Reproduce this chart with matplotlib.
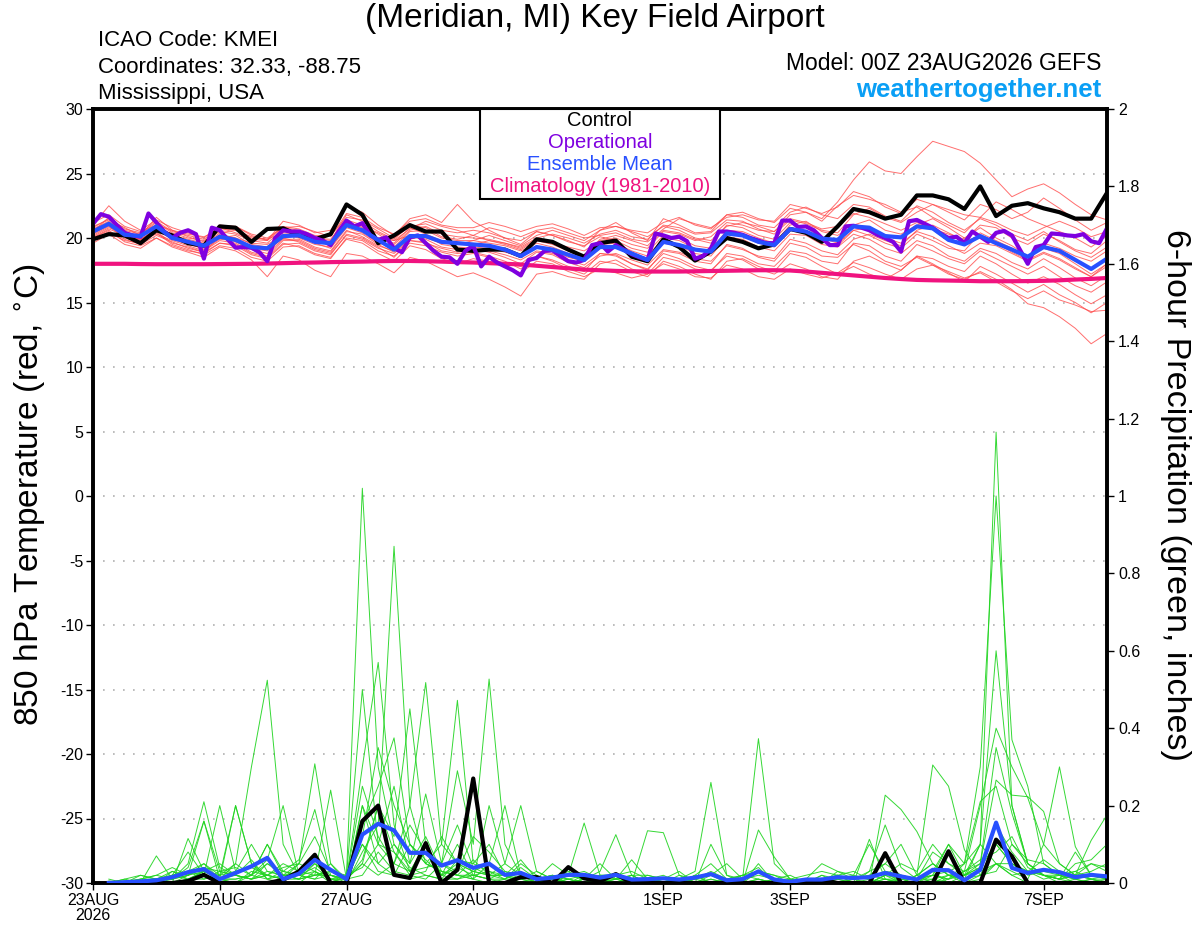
import numpy as np
import matplotlib
matplotlib.use("Agg")
import matplotlib.pyplot as plt
from matplotlib.patches import Rectangle

plt.rcParams['font.family'] = ['Liberation Sans', 'DejaVu Sans']

# ---------------- data ----------------
hours6 = np.arange(0, 385, 6)          # 65 six-hourly steps
hours3 = np.arange(0, 385, 3)          # 129 three-hourly steps (operational)
tick_days = [0, 2, 4, 6, 9, 11, 13, 15]
tick_labels = ["23AUG\n2026", "25AUG", "27AUG", "29AUG", "1SEP", "3SEP", "5SEP", "7SEP"]

control_temp = [19.9, 20.3, 20.2, 19.6, 20.6, 20.2, 19.6, 19.4,
                20.9, 20.8, 19.7, 20.7, 20.75, 20.2, 19.9, 20.3,
                22.6, 21.8, 19.6, 20.2, 21.0, 20.5, 20.5, 19.1,
                19.0, 19.1, 19.1, 18.6, 19.9, 19.7, 19.1, 18.55,
                19.6, 19.8, 18.55, 18.2, 19.9, 19.3, 18.25, 18.95,
                20.0, 19.7, 19.2, 19.5, 20.7, 20.4, 19.7, 20.9,
                22.25, 22.0, 21.5, 21.8, 23.3, 23.3, 23.0, 22.25,
                24.0, 21.7, 22.5, 22.7, 22.3, 22.0, 21.5, 21.5,
                23.5]

mean_temp = [20.5, 21.1, 20.25, 20.15, 20.9, 20.0, 19.7, 19.4,
             20.1, 19.85, 19.3, 19.2, 20.15, 20.2, 19.7, 19.6,
             21.0, 20.6, 19.85, 19.1, 20.15, 20.15, 19.7, 19.6,
             19.5, 19.4, 19.1, 18.6, 19.3, 19.1, 18.7, 18.3,
             19.3, 19.3, 18.8, 18.3, 19.7, 19.45, 19.1, 18.95,
             20.35, 20.2, 19.7, 19.45, 20.7, 20.5, 19.95, 19.85,
             20.9, 20.8, 20.15, 20.05, 20.9, 20.75, 19.85, 19.5,
             20.15, 19.6, 19.1, 18.55, 19.3, 19.0, 18.3, 17.6,
             18.4]

clim_temp = [18.0, 18.0, 18.0, 17.98, 17.97, 17.97, 17.97, 17.97,
             17.98, 17.99, 18.0, 18.02, 18.05, 18.08, 18.1, 18.13,
             18.15, 18.17, 18.2, 18.22, 18.22, 18.2, 18.17, 18.13,
             18.1, 18.05, 18.0, 17.95, 17.85, 17.75, 17.65, 17.55,
             17.5, 17.45, 17.42, 17.4, 17.4, 17.4, 17.42, 17.44,
             17.46, 17.48, 17.5, 17.5, 17.48, 17.4, 17.3, 17.2,
             17.1, 17.0, 16.9, 16.82, 16.75, 16.72, 16.7, 16.68,
             16.65, 16.65, 16.65, 16.66, 16.68, 16.72, 16.78, 16.83,
             16.9]

oper_temp = [21.1, 21.85, 21.65, 21.0, 20.4, 20.2, 20.1, 21.9,
             21.2, 20.5, 20.0, 20.4, 20.6, 20.3, 18.4, 20.8,
             20.6, 19.9, 19.25, 19.3, 19.25, 18.9, 18.2, 20.0,
             20.6, 20.5, 20.5, 20.3, 20.0, 19.8, 19.45, 20.5,
             21.35, 20.9, 21.15, 20.2, 19.85, 20.05, 19.2, 18.9,
             20.05, 20.2, 19.6, 19.0, 18.55, 18.5, 18.0, 19.0,
             19.4, 17.8, 18.55, 18.1, 17.8, 17.5, 17.1, 18.3,
             18.45, 19.0, 19.05, 18.6, 18.2, 18.1, 18.3, 19.45,
             19.6, 18.95, 19.45, 19.1, 18.75, 18.5, 18.3, 20.35,
             20.2, 20.0, 20.1, 19.75, 18.4, 18.6, 19.2, 20.5,
             20.5, 20.4, 20.25, 20.0, 19.8, 19.6, 19.6, 21.35,
             21.35, 20.85, 20.9, 20.6, 20.0, 19.45, 19.45, 20.9,
             20.95, 20.8, 20.6, 20.25, 20.0, 19.7, 18.95, 21.3,
             21.4, 21.1, 20.8, 20.35, 20.0, 20.1, 19.6, 20.5,
             20.1, 19.7, 20.4, 20.55, 20.2, 19.1, 18.0, 19.3,
             19.45, 20.35, 20.3, 20.2, 20.15, 20.3, 19.75, 19.6,
             20.75]

member_temp_01 = [20.8, 21.5, 20.6, 20.3, 21.2, 20.4, 20.0, 19.8, 20.5, 20.3, 19.8, 19.6, 20.7, 20.5, 20.0, 19.9,
                  21.4, 21.0, 20.3, 19.5, 20.6, 20.9, 20.3, 20.1, 20.0, 19.9, 19.6, 19.2, 19.9, 19.6, 19.3, 19.0,
                  19.8, 20.0, 19.5, 19.2, 20.5, 20.3, 19.8, 20.1, 21.2, 21.0, 20.6, 20.5, 21.8, 22.0, 21.5, 22.8,
                  24.5, 25.9, 25.2, 25.0, 26.3, 27.5, 27.1, 26.7, 25.8, 24.5, 23.2, 23.8, 24.2, 23.5, 22.6, 21.8, 21.4]
member_temp_02 = [20.2, 20.9, 20.0, 19.7, 20.5, 19.6, 19.3, 18.9, 19.6, 19.4, 18.7, 18.4, 19.5, 19.6, 19.0, 18.7,
                  20.3, 20.0, 19.3, 18.5, 19.8, 19.7, 19.0, 18.8, 18.9, 18.6, 18.2, 17.6, 18.6, 18.3, 17.8, 17.4,
                  18.8, 18.7, 18.0, 17.5, 19.0, 18.8, 18.2, 18.0, 19.5, 19.2, 18.5, 18.2, 19.6, 19.3, 18.6, 18.5,
                  19.5, 19.0, 18.2, 17.8, 18.5, 17.9, 17.2, 16.8, 17.4, 16.8, 16.0, 14.9, 14.6, 13.9, 13.0, 11.8, 12.6]
member_temp_03 = [21.0, 22.5, 21.3, 20.6, 21.4, 20.8, 20.4, 20.0, 21.0, 20.9, 20.2, 19.8, 21.3, 21.0, 20.4, 20.6,
                  22.5, 22.0, 21.0, 20.2, 21.5, 21.8, 21.2, 22.6, 21.3, 20.6, 20.0, 19.5, 20.5, 20.2, 19.8, 19.3,
                  20.6, 21.2, 20.4, 19.8, 21.5, 21.0, 20.4, 20.5, 21.8, 21.6, 21.0, 20.8, 22.0, 22.4, 21.8, 21.5,
                  22.6, 22.4, 21.7, 21.3, 22.5, 22.0, 21.2, 20.6, 21.5, 21.0, 20.3, 19.8, 20.5, 19.7, 19.0, 18.5, 19.3]
member_temp_04 = [20.0, 20.6, 19.7, 19.4, 20.0, 19.3, 18.9, 18.5, 19.3, 19.0, 18.3, 17.0, 18.6, 18.3, 17.5, 17.0,
                  18.8, 18.6, 18.0, 17.3, 18.5, 18.2, 17.6, 17.0, 17.3, 16.8, 16.2, 15.5, 17.2, 17.4, 17.0, 16.8,
                  18.0, 18.3, 17.6, 17.2, 18.5, 18.2, 17.6, 17.4, 18.8, 18.6, 18.0, 17.8, 19.0, 18.8, 18.2, 18.0,
                  19.6, 19.4, 18.6, 18.2, 19.5, 19.0, 18.4, 18.0, 19.0, 18.4, 17.8, 17.2, 17.8, 17.0, 16.3, 15.8, 16.6]
member_temp_05 = [20.6, 21.2, 20.4, 20.0, 21.0, 20.2, 19.9, 19.6, 20.2, 20.0, 19.6, 19.5, 20.2, 20.4, 19.8, 19.5,
                  21.2, 20.8, 20.0, 19.8, 20.2, 20.0, 19.6, 19.5, 19.8, 19.6, 19.4, 19.0, 19.6, 19.3, 18.8, 18.5,
                  19.5, 19.6, 19.0, 18.6, 20.0, 19.8, 19.2, 19.0, 20.6, 20.5, 20.0, 19.6, 21.0, 21.3, 20.5, 20.2,
                  21.0, 21.4, 20.6, 20.3, 21.0, 21.5, 20.8, 20.0, 20.8, 20.0, 19.4, 18.6, 19.2, 18.8, 18.0, 17.2, 18.0]
member_temp_06 = [20.4, 21.0, 20.3, 19.8, 20.8, 20.0, 19.6, 19.3, 20.3, 20.0, 19.3, 19.1, 20.0, 20.2, 19.6, 19.2,
                  20.8, 20.4, 19.6, 19.3, 20.5, 20.6, 20.0, 19.8, 19.8, 20.2, 19.8, 19.4, 20.2, 20.6, 20.2, 19.8,
                  20.6, 20.9, 20.6, 20.4, 21.2, 21.6, 21.0, 20.7, 21.8, 22.0, 21.5, 21.2, 22.3, 22.0, 21.3, 22.5,
                  23.3, 23.0, 22.6, 22.0, 22.4, 21.6, 21.0, 20.4, 21.6, 22.8, 22.2, 21.5, 21.0, 20.5, 20.0, 19.3, 20.2]
member_temp_07 = [20.0, 20.7, 20.2, 19.9, 20.3, 19.8, 19.4, 19.0, 19.8, 19.6, 18.9, 18.6, 19.8, 19.8, 19.2, 18.9,
                  20.5, 20.3, 19.5, 18.9, 19.9, 20.2, 19.5, 19.3, 19.2, 19.0, 18.7, 18.3, 19.0, 18.8, 18.3, 17.9,
                  18.8, 18.6, 18.0, 17.6, 18.8, 18.4, 17.8, 17.5, 18.6, 18.3, 17.6, 17.2, 18.0, 17.6, 17.0, 16.8,
                  18.2, 18.6, 18.0, 17.5, 18.6, 18.0, 17.3, 16.6, 17.8, 17.2, 16.5, 15.8, 16.4, 15.6, 15.0, 14.2, 15.0]
member_temp_08 = [20.9, 21.4, 20.8, 20.2, 21.6, 20.6, 20.1, 19.7, 20.8, 20.4, 19.9, 19.8, 20.8, 20.6, 20.0, 19.8,
                  21.8, 21.3, 20.5, 19.9, 21.0, 20.8, 20.1, 19.9, 20.2, 19.8, 19.5, 19.1, 19.8, 19.5, 19.0, 18.6,
                  19.9, 20.2, 19.8, 19.4, 20.6, 20.4, 19.9, 19.6, 21.0, 20.8, 20.2, 19.9, 21.2, 20.8, 20.0, 19.6,
                  20.6, 20.8, 20.0, 19.6, 20.5, 20.1, 19.4, 18.8, 19.6, 19.4, 18.8, 18.2, 18.8, 18.3, 17.6, 17.0, 17.8]
member_temp_09 = [20.3, 21.0, 20.1, 19.9, 20.6, 19.9, 19.5, 19.2, 20.0, 20.2, 19.5, 19.3, 20.3, 20.0, 19.5, 19.3,
                  20.9, 20.7, 20.0, 19.6, 20.8, 20.3, 19.8, 19.6, 19.5, 19.8, 19.6, 19.3, 20.0, 20.3, 20.0, 19.6,
                  20.3, 20.6, 20.1, 19.9, 21.0, 20.8, 20.3, 20.4, 21.4, 21.3, 20.7, 20.3, 21.4, 21.1, 20.6, 20.4,
                  21.8, 22.3, 21.6, 21.2, 22.0, 22.6, 22.0, 21.4, 22.6, 22.2, 21.5, 22.0, 23.1, 22.3, 21.4, 20.6, 21.2]
member_temp_10 = [19.6, 20.3, 19.5, 19.2, 20.0, 19.4, 19.0, 18.8, 19.6, 19.5, 18.8, 18.5, 19.6, 19.3, 18.7, 18.4,
                  20.0, 19.8, 19.0, 18.6, 19.6, 19.4, 18.9, 18.6, 18.8, 18.5, 18.0, 17.8, 18.6, 18.2, 17.6, 17.2,
                  18.2, 18.0, 17.4, 17.0, 18.2, 17.8, 17.2, 16.8, 18.2, 18.4, 17.8, 17.4, 18.8, 18.5, 17.8, 17.2,
                  17.8, 17.2, 16.8, 17.5, 18.6, 18.4, 17.8, 17.4, 18.6, 18.0, 17.2, 16.5, 17.0, 16.4, 15.6, 14.9, 15.6]
member_temp_11 = [21.2, 21.8, 20.9, 20.5, 21.0, 20.6, 20.3, 20.1, 20.6, 20.7, 20.0, 19.9, 20.9, 20.7, 20.2, 20.2,
                  21.6, 21.4, 20.7, 20.0, 20.9, 21.1, 20.6, 20.4, 20.6, 20.4, 20.0, 19.8, 20.5, 20.2, 19.7, 19.4,
                  20.1, 19.8, 19.2, 18.9, 20.2, 20.0, 19.4, 19.2, 20.5, 20.2, 19.6, 19.3, 20.6, 20.4, 19.8, 19.4,
                  20.6, 20.2, 19.6, 19.2, 20.3, 19.8, 19.2, 19.0, 20.4, 19.8, 19.2, 18.4, 19.6, 19.2, 18.6, 18.2, 19.0]
member_temp_12 = [19.9, 20.5, 19.9, 19.5, 20.2, 19.7, 19.2, 18.9, 20.1, 19.7, 19.1, 18.8, 19.9, 19.9, 19.3, 19.0,
                  20.6, 20.1, 19.4, 19.0, 20.1, 19.9, 19.3, 19.1, 19.3, 19.2, 18.9, 18.6, 19.3, 19.0, 18.5, 18.2,
                  19.2, 19.4, 18.8, 18.4, 19.6, 19.4, 18.8, 18.6, 20.1, 19.9, 19.3, 19.0, 20.3, 20.2, 19.5, 19.3,
                  20.3, 19.9, 19.2, 18.8, 19.8, 19.4, 18.6, 18.2, 19.2, 18.8, 18.1, 17.6, 18.4, 17.7, 16.9, 16.3, 17.1]
member_temp_13 = [20.7, 21.3, 20.5, 20.1, 20.9, 20.3, 19.8, 19.5, 20.4, 20.6, 20.1, 19.9, 20.4, 20.3, 19.9, 19.6,
                  21.1, 20.9, 20.4, 19.8, 20.7, 21.3, 20.9, 20.6, 20.2, 20.8, 20.5, 20.1, 20.6, 20.8, 20.4, 20.0,
                  20.2, 20.4, 19.9, 19.7, 20.7, 21.5, 21.1, 20.8, 21.6, 21.8, 21.4, 21.3, 22.6, 22.3, 21.9, 22.4,
                  23.6, 23.2, 22.4, 21.9, 23.0, 22.6, 22.2, 21.8, 21.6, 21.2, 20.6, 20.2, 20.8, 21.3, 20.8, 20.1, 20.5]
member_temp_14 = [19.8, 20.4, 19.8, 19.6, 20.4, 19.5, 19.1, 18.7, 19.4, 19.2, 18.5, 18.2, 19.3, 19.4, 18.8, 18.5,
                  19.9, 19.6, 18.8, 18.2, 19.4, 19.1, 18.4, 18.0, 18.4, 18.2, 17.8, 17.3, 18.2, 18.0, 17.4, 17.0,
                  17.6, 17.3, 16.9, 17.2, 18.0, 17.6, 17.0, 16.9, 17.9, 17.6, 17.0, 16.8, 17.6, 17.2, 16.9, 17.3,
                  18.1, 17.7, 17.2, 16.8, 17.6, 17.9, 17.4, 16.9, 17.3, 16.6, 15.9, 15.3, 15.9, 15.2, 14.8, 14.3, 14.4]
member_temp_15 = [20.5, 21.6, 20.7, 20.4, 21.3, 20.5, 20.2, 19.9, 20.7, 20.9, 20.3, 20.0, 20.8, 20.9, 20.5, 20.1,
                  21.9, 21.6, 20.8, 20.3, 21.3, 21.5, 21.0, 20.8, 20.8, 21.2, 20.9, 20.5, 20.9, 21.1, 20.7, 20.2,
                  20.8, 20.9, 20.5, 20.1, 20.9, 20.6, 20.0, 19.8, 20.9, 21.2, 20.9, 20.5, 21.5, 21.2, 20.7, 20.9,
                  21.9, 21.6, 21.1, 20.6, 21.2, 20.7, 20.3, 19.9, 21.0, 20.8, 20.0, 19.5, 20.3, 19.8, 19.1, 18.8, 19.8]
member_temp_16 = [20.1, 20.8, 20.4, 19.9, 20.7, 19.9, 19.6, 19.1, 19.9, 19.8, 19.2, 19.0, 20.0, 19.7, 19.1, 18.8,
                  20.2, 19.9, 19.2, 18.8, 19.8, 19.6, 19.2, 18.9, 19.1, 18.9, 18.5, 18.0, 18.9, 18.7, 18.1, 17.7,
                  18.6, 18.8, 18.3, 17.9, 19.1, 18.9, 18.4, 18.2, 19.4, 19.1, 18.6, 18.4, 19.9, 19.6, 19.0, 18.7,
                  19.9, 20.3, 19.8, 19.4, 20.6, 21.0, 20.4, 19.8, 20.1, 19.6, 18.9, 18.3, 18.9, 18.4, 17.7, 17.0, 18.0]

# precipitation: 64 values, for steps 6 h .. 384 h
control_precip = [0, 0, 0, 0, 0, 0.005, 0.021, 0, 0, 0, 0, 0.008, 0.03, 0.073, 0, 0,
                  0.16, 0.20, 0.021, 0.013, 0.103, 0, 0.034, 0.27, 0, 0, 0.015, 0.015, 0, 0.041, 0.012, 0.005,
                  0.023, 0, 0, 0, 0, 0, 0, 0, 0, 0, 0, 0, 0, 0.008, 0, 0,
                  0, 0.077, 0, 0, 0, 0.082, 0, 0, 0.112, 0.069, 0, 0, 0, 0, 0, 0]
mean_precip = [0, 0.002, 0.004, 0.007, 0.015, 0.028, 0.036, 0.01, 0.026, 0.043, 0.065, 0.01, 0.024, 0.06, 0.034, 0.01,
               0.125, 0.153, 0.136, 0.078, 0.078, 0.045, 0.059, 0.039, 0.05, 0.021, 0.026, 0.01, 0.014, 0.021, 0.021, 0.014,
               0.021, 0.009, 0.01, 0.012, 0.009, 0.014, 0.023, 0.007, 0.01, 0.03, 0.009, 0.003, 0.009, 0.009, 0.015, 0.013,
               0.015, 0.026, 0.017, 0.009, 0.034, 0.033, 0.007, 0.034, 0.156, 0.039, 0.026, 0.034, 0.028, 0.015, 0.021, 0.017]

member_precip_01 = [0, 0, 0.01, 0.02, 0.01, 0.05, 0.21, 0.04, 0.02, 0.06, 0.01, 0, 0, 0.03, 0, 0.02,
                    1.02, 0.30, 0.10, 0.04, 0.02, 0.01, 0.06, 0.05, 0.10, 0.02, 0, 0, 0, 0.01, 0, 0,
                    0, 0, 0, 0.01, 0, 0, 0.02, 0, 0, 0.05, 0, 0, 0, 0, 0, 0,
                    0, 0.02, 0, 0, 0.03, 0, 0.02, 0.10, 0.05, 0.02, 0, 0, 0, 0.01, 0, 0]
member_precip_02 = [0, 0.005, 0, 0.01, 0.03, 0.02, 0.16, 0.03, 0.04, 0.02, 0.10, 0.02, 0.01, 0.05, 0.02, 0,
                    0.08, 0.15, 0.87, 0.20, 0.05, 0.03, 0.02, 0.01, 0, 0.01, 0.03, 0, 0, 0, 0.02, 0,
                    0.01, 0, 0, 0, 0, 0, 0, 0, 0, 0, 0.01, 0, 0, 0, 0, 0,
                    0.01, 0.03, 0, 0.02, 0, 0.01, 0.05, 0.10, 1.165, 0.20, 0.05, 0.02, 0, 0, 0.01, 0]
member_precip_03 = [0, 0, 0, 0, 0.02, 0.03, 0.05, 0.01, 0.05, 0.30, 0.524, 0.10, 0.02, 0.01, 0.05, 0.01,
                    0.30, 0.57, 0.15, 0.03, 0.10, 0.02, 0.04, 0.02, 0.01, 0, 0.02, 0, 0, 0, 0, 0.01,
                    0, 0, 0, 0, 0, 0.01, 0, 0, 0, 0, 0, 0, 0, 0, 0.02, 0,
                    0, 0, 0.01, 0, 0.02, 0.03, 0.05, 0.30, 1.0, 0.37, 0.25, 0.05, 0.02, 0, 0, 0.01]
member_precip_04 = [0, 0, 0, 0.005, 0, 0.115, 0.03, 0.02, 0.20, 0.05, 0.02, 0.01, 0.05, 0.308, 0.05, 0,
                    0.20, 0.10, 0.05, 0.20, 0.518, 0.10, 0.05, 0.03, 0.05, 0.02, 0.01, 0, 0.01, 0, 0.01, 0.02,
                    0.02, 0.01, 0, 0, 0, 0, 0, 0, 0, 0.01, 0, 0, 0, 0.01, 0, 0,
                    0, 0.227, 0.19, 0.133, 0.05, 0.02, 0.01, 0.10, 0.60, 0.20, 0.05, 0.02, 0.01, 0.02, 0.03, 0.05]
member_precip_05 = [0, 0.01, 0, 0.07, 0.01, 0.02, 0.05, 0.02, 0.03, 0.04, 0.02, 0.05, 0.03, 0.02, 0.24, 0.01,
                    0.15, 0.25, 0.375, 0.10, 0.05, 0.10, 0.472, 0.05, 0.03, 0.01, 0.04, 0.01, 0, 0.02, 0.01, 0,
                    0, 0, 0.01, 0, 0.01, 0, 0, 0, 0, 0, 0, 0.01, 0, 0, 0.01, 0.02,
                    0.01, 0, 0, 0.02, 0.305, 0.25, 0.086, 0.02, 0.10, 0.05, 0.02, 0.03, 0.02, 0.01, 0, 0]
member_precip_06 = [0.01, 0, 0.02, 0.01, 0.02, 0.03, 0.02, 0.20, 0.03, 0.10, 0.03, 0.02, 0.05, 0.03, 0.01, 0,
                    0.20, 0.05, 0.10, 0.05, 0.23, 0.05, 0.29, 0.10, 0.527, 0.10, 0.02, 0.01, 0.02, 0, 0.01, 0.03,
                    0.125, 0.02, 0, 0.01, 0, 0.02, 0, 0, 0.02, 0.01, 0, 0.005, 0, 0, 0.01, 0,
                    0, 0.02, 0.01, 0.01, 0.02, 0.01, 0.03, 0.05, 0.266, 0.227, 0.223, 0.185, 0.05, 0.02, 0.01, 0]
member_precip_07 = [0, 0, 0, 0, 0.02, 0.01, 0.03, 0.01, 0, 0.02, 0.10, 0.03, 0.06, 0.19, 0.02, 0.01,
                    0.10, 0.05, 0.02, 0.10, 0.05, 0.03, 0.02, 0.01, 0.20, 0.05, 0.20, 0.03, 0.01, 0.02, 0.155, 0.02,
                    0.01, 0, 0.135, 0.13, 0.02, 0, 0.01, 0, 0, 0, 0, 0, 0, 0, 0, 0,
                    0.113, 0.01, 0, 0, 0.01, 0, 0, 0.02, 0.05, 0.03, 0.01, 0.10, 0.30, 0.094, 0.02, 0.01]
member_precip_08 = [0, 0.005, 0.01, 0.02, 0.04, 0.02, 0.03, 0.05, 0.02, 0.01, 0.05, 0.02, 0.03, 0.06, 0.01, 0.01,
                    0.05, 0.02, 0.05, 0.03, 0.08, 0.02, 0.01, 0.02, 0.01, 0.03, 0.01, 0.02, 0, 0.01, 0, 0.01,
                    0, 0, 0.02, 0.01, 0.01, 0.03, 0.26, 0.02, 0.01, 0.373, 0.05, 0.01, 0, 0.01, 0.02, 0,
                    0, 0.01, 0, 0, 0, 0.02, 0, 0.01, 0.05, 0.05, 0.03, 0.02, 0.01, 0.02, 0.11, 0.176]
member_precip_09 = [0, 0, 0.01, 0.01, 0.01, 0.04, 0.16, 0.01, 0.01, 0.02, 0.06, 0.20, 0.02, 0.05, 0.01, 0.02,
                    0.50, 0.10, 0.08, 0.02, 0.03, 0.12, 0.05, 0.03, 0.02, 0.05, 0.02, 0, 0.01, 0, 0, 0.02,
                    0.02, 0.01, 0.01, 0, 0, 0.02, 0, 0, 0, 0.137, 0.067, 0.01, 0, 0.02, 0.01, 0,
                    0, 0.01, 0, 0.02, 0.05, 0.02, 0.01, 0.02, 0.03, 0.10, 0.05, 0.02, 0.01, 0.05, 0.06, 0.10]
member_precip_10 = [0, 0, 0, 0, 0, 0.01, 0.02, 0.01, 0.20, 0.05, 0.01, 0.02, 0.01, 0.02, 0.03, 0.01,
                    0.05, 0.20, 0.12, 0.45, 0.10, 0.02, 0.05, 0.01, 0.05, 0.20, 0.02, 0.01, 0.01, 0.03, 0.01, 0,
                    0.01, 0.02, 0, 0, 0.01, 0, 0, 0.005, 0, 0, 0, 0, 0, 0, 0, 0.01,
                    0.02, 0.05, 0.02, 0.01, 0.02, 0.10, 0.02, 0.05, 0.35, 0.18, 0.05, 0.02, 0.01, 0, 0.01, 0.02]
member_precip_11 = [0.005, 0, 0, 0.01, 0, 0.02, 0.04, 0.01, 0, 0.03, 0.02, 0.01, 0.02, 0.03, 0.01, 0.01,
                    0.02, 0.08, 0.03, 0.02, 0.01, 0.05, 0.02, 0.02, 0.01, 0.01, 0.05, 0.02, 0, 0.02, 0.03, 0.01,
                    0.01, 0.06, 0.01, 0, 0.02, 0.01, 0.03, 0.01, 0.02, 0.04, 0, 0.01, 0.02, 0.03, 0.02, 0.01,
                    0.03, 0.05, 0.10, 0.02, 0.05, 0.02, 0.02, 0.04, 0.10, 0.05, 0.03, 0.02, 0.02, 0.03, 0.05, 0.03]
member_precip_12 = [0, 0, 0.005, 0, 0.03, 0.01, 0.01, 0.03, 0.02, 0.01, 0.03, 0.02, 0.01, 0.02, 0.02, 0.01,
                    0.10, 0.03, 0.02, 0.01, 0.02, 0.01, 0.01, 0.03, 0.02, 0.02, 0, 0.01, 0.02, 0.01, 0.02, 0,
                    0, 0.02, 0.02, 0.01, 0, 0.01, 0.02, 0.05, 0.01, 0.02, 0.01, 0, 0.01, 0.05, 0.03, 0.02,
                    0.10, 0.03, 0.02, 0.01, 0.08, 0.05, 0.03, 0.20, 0.40, 0.30, 0.22, 0.10, 0.05, 0.02, 0.01, 0]
member_precip_13 = [0, 0, 0, 0, 0, 0.01, 0.03, 0.01, 0.02, 0.01, 0.02, 0.04, 0.05, 0.12, 0.03, 0.01,
                    0.06, 0.20, 0.08, 0.03, 0.04, 0.05, 0.15, 0.04, 0.02, 0.01, 0.01, 0, 0, 0, 0.01, 0,
                    0, 0.01, 0, 0, 0.01, 0, 0.10, 0.02, 0, 0.01, 0, 0, 0, 0, 0, 0,
                    0.03, 0.15, 0.04, 0.01, 0.01, 0.02, 0.03, 0.06, 0.08, 0.12, 0.04, 0.02, 0.01, 0.08, 0.02, 0.01]
member_precip_14 = [0, 0, 0, 0.01, 0.02, 0.08, 0.02, 0.01, 0.01, 0.02, 0.05, 0.03, 0.02, 0.04, 0.01, 0,
                    0.12, 0.35, 0.20, 0.10, 0.06, 0.02, 0.10, 0.02, 0.03, 0.02, 0.06, 0.01, 0.02, 0.01, 0, 0.01,
                    0, 0, 0.01, 0.02, 0, 0, 0, 0.01, 0.02, 0.03, 0.02, 0, 0, 0, 0.03, 0.01,
                    0.02, 0.01, 0.01, 0.01, 0.03, 0.10, 0.05, 0.21, 0.25, 0.10, 0.06, 0.05, 0.02, 0.01, 0.02, 0.02]
member_precip_15 = [0, 0.01, 0.02, 0.01, 0.01, 0.03, 0.01, 0.02, 0.05, 0.02, 0.01, 0.03, 0.02, 0.01, 0.02, 0.01,
                    0.25, 0.12, 0.05, 0.15, 0.08, 0.05, 0.03, 0.12, 0.08, 0.03, 0.02, 0.01, 0.05, 0.02, 0.01, 0.01,
                    0.02, 0.03, 0.01, 0, 0, 0.02, 0.05, 0.01, 0, 0.03, 0.02, 0.01, 0, 0.01, 0.02, 0.03,
                    0.01, 0.03, 0.02, 0.01, 0.02, 0.01, 0.02, 0.03, 0.05, 0.02, 0.03, 0.06, 0.03, 0.02, 0.05, 0.04]
member_precip_16 = [0, 0, 0, 0, 0.01, 0.02, 0.04, 0.03, 0.02, 0.01, 0.02, 0.01, 0.01, 0.02, 0.03, 0.02,
                    0.04, 0.10, 0.25, 0.05, 0.12, 0.03, 0.02, 0.06, 0.02, 0.02, 0.01, 0.03, 0.01, 0, 0.01, 0.05,
                    0.01, 0.02, 0, 0.01, 0.03, 0, 0.01, 0, 0, 0, 0.01, 0.02, 0, 0.02, 0, 0.01,
                    0, 0.02, 0.05, 0.03, 0.10, 0.05, 0.02, 0.04, 0.15, 0.08, 0.03, 0.01, 0.02, 0.03, 0.01, 0.01]

member_temps = [member_temp_01, member_temp_02, member_temp_03, member_temp_04, member_temp_05, member_temp_06,
                member_temp_07, member_temp_08, member_temp_09, member_temp_10, member_temp_11, member_temp_12,
                member_temp_13, member_temp_14, member_temp_15, member_temp_16]
member_precips = [member_precip_01, member_precip_02, member_precip_03, member_precip_04, member_precip_05,
                  member_precip_06, member_precip_07, member_precip_08, member_precip_09, member_precip_10,
                  member_precip_11, member_precip_12, member_precip_13, member_precip_14, member_precip_15,
                  member_precip_16]

# ---------------- plot ----------------
W, H = 1200, 927
fig = plt.figure(figsize=(W / 100, H / 100), dpi=100)
L, R, T, B = 93, 1107, 109, 883
ax = fig.add_axes([L / W, 1 - B / H, (R - L) / W, (B - T) / H])
ax2 = ax.twinx()

days6 = hours6 / 24.0
days3 = hours3 / 24.0
pdays = days6[1:]

RED = '#ff4a4a'
GREEN = '#1fd41f'
BLACK = '#000000'
PURPLE = '#7f00e0'
BLUE = '#2850ff'
PINK = '#f0137f'

for m in member_temps:
    ax.plot(days6, m, color=RED, lw=0.7, alpha=0.8, zorder=2)
ax.plot(days6, clim_temp, color=PINK, lw=3, zorder=3, solid_capstyle='butt')
ax.plot(days6, control_temp, color=BLACK, lw=3, zorder=4)
ax.plot(days3, oper_temp, color=PURPLE, lw=3, zorder=5)
ax.plot(days6, mean_temp, color=BLUE, lw=3, zorder=6)

for m in member_precips:
    ax2.plot(pdays, m, color=GREEN, lw=0.7, alpha=0.9, zorder=2)
ax2.plot(pdays, control_precip, color=BLACK, lw=3, zorder=4)
ax2.plot(pdays, mean_precip, color=BLUE, lw=3, zorder=5)

ax.set_xlim(0, 16)
ax.set_ylim(-30, 30)
ax2.set_ylim(0, 2)

ax.set_yticks(np.arange(-30, 31, 5))
ax.set_yticklabels([str(v) for v in range(-30, 31, 5)])
ax2.set_yticks(np.arange(0, 2.01, 0.2))
ax2.set_yticklabels(['0', '0.2', '0.4', '0.6', '0.8', '1', '1.2', '1.4', '1.6', '1.8', '2'])
ax.set_xticks(tick_days)
ax.set_xticklabels(tick_labels, linespacing=1.05)

for v in range(-25, 26, 5):
    ax.axhline(v, color='#b0b0b0', lw=1.2, ls=(0, (1, 5)), zorder=1)

for a in (ax, ax2):
    for s in a.spines.values():
        s.set_linewidth(2.6)
ax.tick_params(axis='both', labelsize=11.5, length=5, width=1, direction='out', pad=2)
ax2.tick_params(axis='y', labelsize=11.5, length=5, width=1, direction='out', pad=3)

fig.text(30 / W, 1 - 495 / H, '850 hPa Temperature (red, $^{\\circ}$C)', fontsize=24,
         rotation=90, ha='center', va='center')
fig.text(1175 / W, 1 - 495 / H, '6-hour Precipitation (green, inches)', fontsize=24.5,
         rotation=270, ha='center', va='center')

# legend box
rx0, rx1 = (480 - L) / (R - L), (720 - L) / (R - L)
ry0 = 1 - (199 - T) / (B - T)
ax2.add_patch(Rectangle((rx0, ry0), rx1 - rx0, 1 - ry0, transform=ax2.transAxes,
                        facecolor='white', edgecolor='black', lw=1.5, zorder=20, clip_on=False))
leg_items = [("Control", BLACK, 121), ("Operational", PURPLE, 142),
             ("Ensemble Mean", BLUE, 164), ("Climatology (1981-2010)", PINK, 186)]
for txt, col, yp in leg_items:
    fig.text(600 / W, 1 - yp / H, txt, color=col, fontsize=14.5, ha='center', va='center', zorder=30)

# header texts
fig.text(595 / W, 1 - 18 / H, '(Meridian, MI) Key Field Airport', fontsize=24, ha='center', va='center')
fig.text(98 / W, 1 - 41 / H, 'ICAO Code: KMEI', fontsize=16, ha='left', va='center')
fig.text(98 / W, 1 - 67 / H, 'Coordinates: 32.33, -88.75', fontsize=16, ha='left', va='center')
fig.text(98 / W, 1 - 93 / H, 'Mississippi, USA', fontsize=16, ha='left', va='center')
fig.text(1101 / W, 1 - 64 / H, 'Model: 00Z 23AUG2026 GEFS', fontsize=16.5, ha='right', va='center')
fig.text(1101 / W, 1 - 90 / H, 'weathertogether.net', fontsize=18.5, ha='right', va='center',
         color='#0a9ff5', fontweight='bold')

fig.savefig('out.png', dpi=100)
